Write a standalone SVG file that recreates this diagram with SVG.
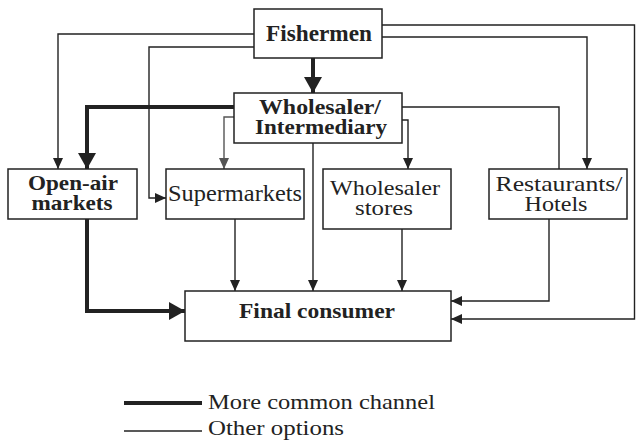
<svg xmlns="http://www.w3.org/2000/svg" width="636" height="440" viewBox="0 0 636 440">
<style>
.box{fill:#fff;stroke:#222;stroke-width:1.5}
.thin{fill:none;stroke:#222;stroke-width:1.4}
.grey{fill:none;stroke:#555;stroke-width:1.4}
.thick{fill:none;stroke:#222;stroke-width:4}
</style>
<defs>
<marker id="a" markerUnits="userSpaceOnUse" markerWidth="11" markerHeight="11" viewBox="0 0 11 11" refX="11" refY="5.5" orient="auto"><path d="M0,0.5 L11,5.5 L0,10.5 Z" fill="#222"/></marker>
<marker id="ag" markerUnits="userSpaceOnUse" markerWidth="11" markerHeight="11" viewBox="0 0 11 11" refX="11" refY="5.5" orient="auto"><path d="M0,0.5 L11,5.5 L0,10.5 Z" fill="#555"/></marker>
<marker id="at" markerUnits="userSpaceOnUse" markerWidth="16" markerHeight="18" viewBox="0 0 16 18" refX="16" refY="9" orient="auto"><path d="M0,0 L16,9 L0,18 Z" fill="#222"/></marker>
</defs>
<g id="connectors">
<path class="thick" d="M313 58 V93" marker-end="url(#at)"/>
<path class="thick" d="M234 107 H87 V169" marker-end="url(#at)"/>
<path class="thick" d="M87 219 V311 H185" marker-end="url(#at)"/>
<path class="thin" d="M254 34 H58 V169" marker-end="url(#a)"/>
<path class="thin" d="M254 47 H149 V198 H166" marker-end="url(#a)"/>
<path class="grey" d="M234 117 H224 V169" marker-end="url(#ag)"/>
<path class="thin" d="M313 143 V291" marker-end="url(#a)"/>
<path class="thin" d="M402 120 H408 V169" marker-end="url(#a)"/>
<path class="thin" d="M402 107 H559 V169"/>
<path class="thin" d="M382 37 H587 V169" marker-end="url(#a)"/>
<path class="thin" d="M382 25 H634.5 V319 H451" marker-end="url(#a)"/>
<path class="thin" d="M235 219 V291" marker-end="url(#a)"/>
<path class="thin" d="M402 229 V291" marker-end="url(#a)"/>
<path class="thin" d="M549 219 V301 H451" marker-end="url(#a)"/>
</g>
<g id="fishermen"><rect class="box" x="254" y="9" width="128" height="49"/><text font-family="'Liberation Serif', serif" font-size="23" font-weight="bold" fill="#222" text-anchor="middle" x="319" y="41" textLength="106" lengthAdjust="spacingAndGlyphs">Fishermen</text></g>
<g id="wholesaler"><rect class="box" x="234" y="93" width="168" height="50"/><text font-family="'Liberation Serif', serif" font-size="21" font-weight="bold" fill="#222" text-anchor="middle" x="320" y="114" textLength="122" lengthAdjust="spacingAndGlyphs">Wholesaler/</text><text font-family="'Liberation Serif', serif" font-size="21" font-weight="bold" fill="#222" text-anchor="middle" x="321" y="134" textLength="132" lengthAdjust="spacingAndGlyphs">Intermediary</text></g>
<g id="openair"><rect class="box" x="8" y="169" width="129" height="50"/><text font-family="'Liberation Serif', serif" font-size="21" font-weight="bold" fill="#222" text-anchor="middle" x="73" y="190" textLength="90" lengthAdjust="spacingAndGlyphs">Open-air</text><text font-family="'Liberation Serif', serif" font-size="21" font-weight="bold" fill="#222" text-anchor="middle" x="72" y="210" textLength="81" lengthAdjust="spacingAndGlyphs">markets</text></g>
<g id="supermarkets"><rect class="box" x="166" y="169" width="138" height="50"/><text font-family="'Liberation Serif', serif" font-size="23" fill="#222" text-anchor="middle" x="235" y="201" textLength="134" lengthAdjust="spacingAndGlyphs">Supermarkets</text></g>
<g id="wholesalerstores"><rect class="box" x="323" y="169" width="128" height="60"/><text font-family="'Liberation Serif', serif" font-size="21" fill="#222" text-anchor="middle" x="385" y="195" textLength="110" lengthAdjust="spacingAndGlyphs">Wholesaler</text><text font-family="'Liberation Serif', serif" font-size="21" fill="#222" text-anchor="middle" x="384" y="215" textLength="58" lengthAdjust="spacingAndGlyphs">stores</text></g>
<g id="restaurants"><rect class="box" x="489" y="169" width="138" height="50"/><text font-family="'Liberation Serif', serif" font-size="21" fill="#222" text-anchor="middle" x="559" y="191" textLength="127" lengthAdjust="spacingAndGlyphs">Restaurants/</text><text font-family="'Liberation Serif', serif" font-size="21" fill="#222" text-anchor="middle" x="556" y="211" textLength="63" lengthAdjust="spacingAndGlyphs">Hotels</text></g>
<g id="finalconsumer"><rect class="box" x="185" y="291" width="266" height="50"/><text font-family="'Liberation Serif', serif" font-size="22" font-weight="bold" fill="#222" text-anchor="middle" x="317" y="318" textLength="156" lengthAdjust="spacingAndGlyphs">Final consumer</text></g>
<g id="legend">
<line x1="124" y1="403" x2="202" y2="403" stroke="#222" stroke-width="4"/>
<text font-family="'Liberation Serif', serif" font-size="22" fill="#222" x="208" y="409" textLength="227" lengthAdjust="spacingAndGlyphs">More common channel</text>
<line x1="124" y1="431" x2="202" y2="431" stroke="#222" stroke-width="1.4"/>
<text font-family="'Liberation Serif', serif" font-size="22" fill="#222" x="208" y="435" textLength="136" lengthAdjust="spacingAndGlyphs">Other options</text>
</g>
</svg>
